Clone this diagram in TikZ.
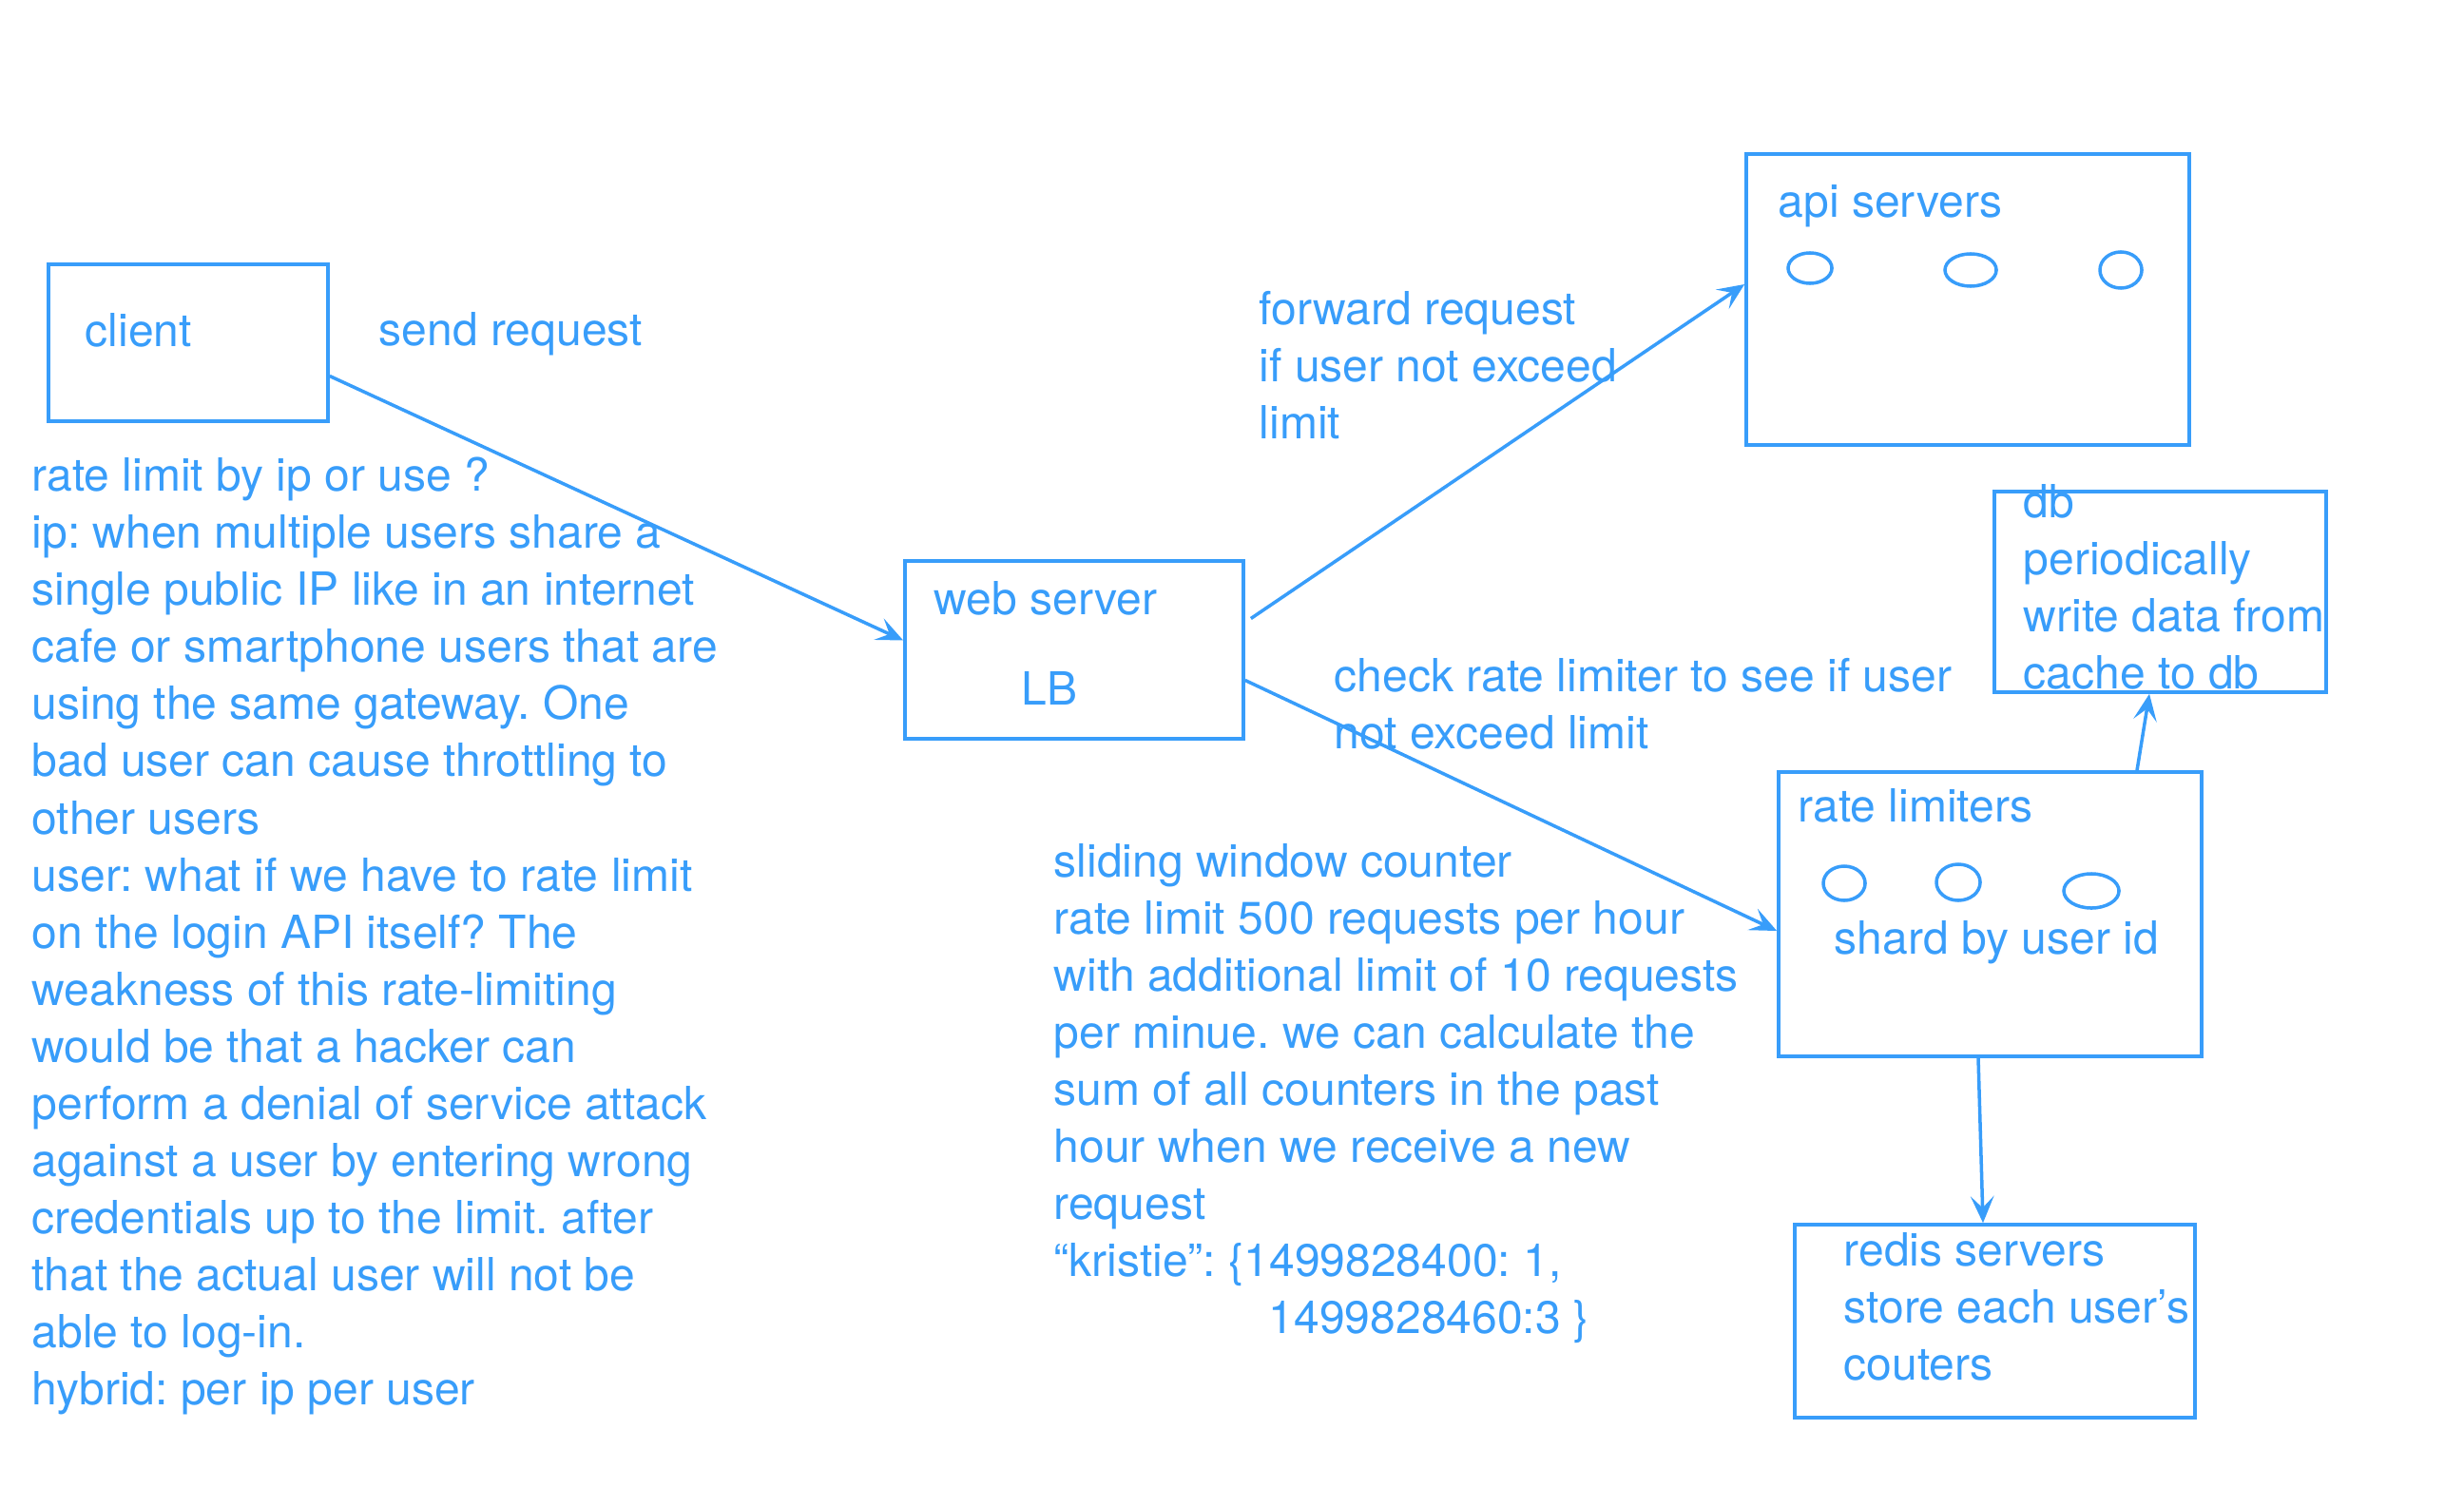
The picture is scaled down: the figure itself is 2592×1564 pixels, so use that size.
\documentclass[tikz,border=0pt]{standalone}
\usepackage{fontspec}
\setmainfont{TeX Gyre Heros}
\usetikzlibrary{arrows.meta,calc,shapes.geometric}
\definecolor{ink}{RGB}{56,157,250}
\begin{document}
\frenchspacing
\begin{tikzpicture}[x=0.01cm,y=-0.01cm,
  every node/.style={text=ink,font=\frenchspacing\fontsize{13.66}{17.07}\selectfont},
  box/.style={draw=ink,line width=1pt,inner sep=0pt},
  txt/.style={inner sep=0pt,anchor=west,align=left},
  ell/.style={draw=ink,line width=1pt,ellipse,inner sep=0pt},
  conn/.style={draw=ink,line width=1pt,-{Stealth[length=8pt,width=7pt,inset=3.5pt]}}]
\useasboundingbox (0,0) rectangle (2592,1564);
% boxes
\node[box,minimum width=2.94cm,minimum height=1.65cm] (client) at (198,360.5) {};
\node[box,minimum width=3.56cm,minimum height=1.87cm] (web) at (1130,683.5) {};
\node[box,minimum width=4.66cm,minimum height=3.06cm] (api) at (2070,315) {};
\node[box,minimum width=3.49cm,minimum height=2.11cm] (db) at (2272.5,622.5) {};
\node[box,minimum width=4.45cm,minimum height=2.99cm] (rl) at (2093.5,961.5) {};
\node[box,minimum width=4.21cm,minimum height=2.03cm] (redis) at (2098.5,1389.5) {};
% ellipses
\node[ell,minimum width=0.46cm,minimum height=0.32cm] (a1) at (1904,282) {};
\node[ell,minimum width=0.54cm,minimum height=0.34cm] (a2) at (2073,284) {};
\node[ell,minimum width=0.44cm,minimum height=0.38cm] (a3) at (2231,284) {};
\node[ell,minimum width=0.44cm,minimum height=0.36cm] (r1) at (1940,929) {};
\node[ell,minimum width=0.46cm,minimum height=0.38cm] (r2) at (2060,928) {};
\node[ell,minimum width=0.58cm,minimum height=0.36cm] (r3) at (2200,937) {};
% labels
\node[txt] (tclient) at (89,347) {client};
\node[txt] (tsend) at (398,351) {send request};
\node[txt] (tweb) at (982,629) {web server};
\node[txt] (tlb) at (1074,724) {LB};
\node[txt] (tapi) at (1870,217) {api servers};
\node[txt] (trl) at (1891,847) {rate limiters};
\node[txt] (tshard) at (1929,991) {shard by user id};
\node[txt] (tdb) at (2128,617) {db\\periodically\\write data from\\cache to db};
\node[txt] (tredis) at (1939,1374) {redis servers\\store each user’s\\couters};
\node[txt] (tfwd) at (1324,384) {forward request\\if user not exceed\\limit};
\node[txt] (tcheck) at (1403,740) {check rate limiter to see if user\\not exceed limit};
\node[txt] (tleft) at (33,984.5) {rate limit by ip or use ?\\
ip: when multiple users share a\\
single public IP like in an internet\\
cafe or smartphone users that are\\
using the same gateway. One\\
bad user can cause throttling to\\
other users\\
user: what if we have to rate limit\\
on the login API itself? The\\
weakness of this rate-limiting\\
would be that a hacker can\\
perform a denial of service attack\\
against a user by entering wrong\\
credentials up to the limit. after\\
that the actual user will not be\\
able to log-in.\\
hybrid: per ip per user};
\node[txt] (tmid) at (1108,1150) {sliding window counter\\
rate limit 500 requests per hour\\
with additional limit of 10 requests\\
per minue. we can calculate the\\
sum of all counters in the past\\
hour when we receive a new\\
request\\
“kristie”: \{1499828400: 1,\\
\hspace*{2.26cm}1499828460:3 \}};
% connectors
\draw[conn] ($(client.east)+(0,35)$) -- ($(web.west)+(0,-10)$);
\draw[conn] ($(web.east)+(6,-33)$) -- ($(api.west)+(0,-16)$);
\draw[conn] ($(web.east)+(0,32)$) -- ($(rl.west)+(0,17.5)$);
\draw[conn] ($(rl.north)+(154.5,0)$) -- ($(db.south)+(-11.5,0)$);
\draw[conn] ($(rl.south)+(-12.5,0)$) -- ($(redis.north)+(-12.5,0)$);
\end{tikzpicture}
\end{document}
